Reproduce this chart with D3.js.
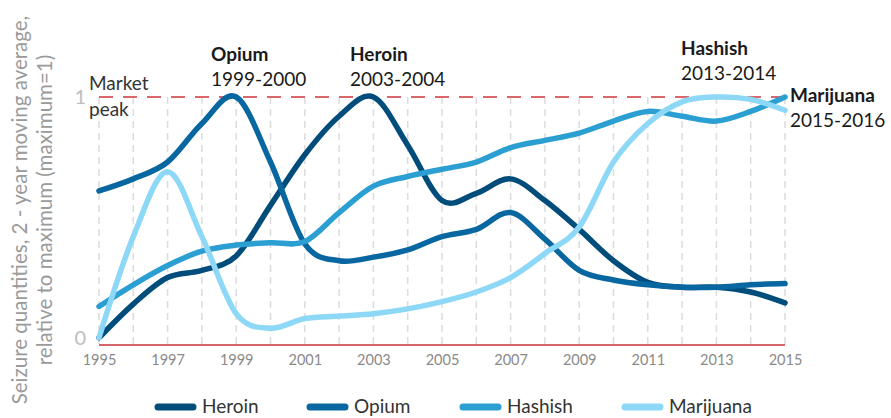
<!DOCTYPE html>
<html>
<head>
<meta charset="utf-8">
<script src="https://cdn.jsdelivr.net/npm/d3@7"></script>
<style>
  body { margin: 0; background: #fff; }
  svg { font-family: Lato, "Open Sans", sans-serif; }
</style>
</head>
<body>
<svg width="891" height="418"></svg>
<script>
var years = d3.range(1995, 2016);
var heroin    = [0, 0.14, 0.25, 0.28, 0.34, 0.55, 0.76, 0.92, 1.0, 0.80, 0.57, 0.60, 0.66, 0.57, 0.45, 0.32, 0.23, 0.21, 0.21, 0.19, 0.145];
var opium     = [0.61, 0.66, 0.73, 0.89, 1.0, 0.73, 0.39, 0.32, 0.335, 0.365, 0.42, 0.45, 0.52, 0.41, 0.28, 0.24, 0.22, 0.21, 0.21, 0.22, 0.225];
var hashish   = [0.13, 0.22, 0.30, 0.36, 0.385, 0.395, 0.40, 0.52, 0.63, 0.67, 0.70, 0.73, 0.79, 0.82, 0.85, 0.90, 0.94, 0.92, 0.90, 0.94, 1.0];
var marijuana = [0, 0.42, 0.69, 0.42, 0.10, 0.04, 0.08, 0.09, 0.10, 0.12, 0.15, 0.19, 0.25, 0.35, 0.46, 0.73, 0.89, 0.98, 1.0, 0.99, 0.945];
var tickYears = d3.range(1995, 2016, 2);

var series = [
  {name: "Heroin", values: heroin, color: "#004d7b"},
  {name: "Opium", values: opium, color: "#0867a0"},
  {name: "Hashish", values: hashish, color: "#2b9ed2"},
  {name: "Marijuana", values: marijuana, color: "#8ed8f7"}
];

var peaks = [
  {name: "Opium", years: "1999-2000", x: 211, y: 61},
  {name: "Heroin", years: "2003-2004", x: 350, y: 61},
  {name: "Hashish", years: "2013-2014", x: 681, y: 55},
  {name: "Marijuana", years: "2015-2016", x: 790, y: 102}
];

var svg = d3.select("svg");

var x = d3.scaleLinear().domain([1995, 2015]).range([99, 785]);
var y = d3.scaleLinear().domain([-0.03, 1]).range([345, 97]);

// vertical dashed grid, one per year
svg.append("g").selectAll("line")
  .data(years)
  .enter().append("line")
    .attr("x1", function(d) { return x(d); })
    .attr("x2", function(d) { return x(d); })
    .attr("y1", y(1))
    .attr("y2", y(-0.03))
    .attr("stroke", "#dcdcdc")
    .attr("stroke-width", 1.5)
    .attr("stroke-dasharray", "7,5");

// market peak line
svg.append("line")
  .attr("x1", x(1995)).attr("x2", x(2015))
  .attr("y1", y(1)).attr("y2", y(1))
  .attr("stroke", "#d9666a")
  .attr("stroke-width", 2)
  .attr("stroke-dasharray", "14,10");

// baseline
svg.append("line")
  .attr("x1", x(1995)).attr("x2", x(2015))
  .attr("y1", y(-0.03)).attr("y2", y(-0.03))
  .attr("stroke", "#c8333a")
  .attr("stroke-width", 1.5);

// x axis labels
var xAxis = d3.axisBottom(x).tickValues(tickYears).tickFormat(d3.format("d")).tickSize(0).tickPadding(10);
var gx = svg.append("g").attr("transform", "translate(0," + y(-0.03) + ")").call(xAxis);
gx.select(".domain").remove();
gx.selectAll("text").attr("fill", "#8a8a8a").style("font-size", "14.5px").style("font-family", "Lato, sans-serif");

// y axis labels
var yAxis = d3.axisLeft(y).tickValues([0, 1]).tickFormat(d3.format("d")).tickSize(0).tickPadding(13);
var gy = svg.append("g").attr("transform", "translate(" + x(1995) + ",0)").call(yAxis);
gy.select(".domain").remove();
gy.selectAll("text").attr("fill", "#bdbdbd").style("font-size", "20px").style("font-family", "Lato, sans-serif");

// y axis title
var yt = svg.append("text")
  .attr("transform", "translate(22,210) rotate(-90)")
  .attr("text-anchor", "middle")
  .attr("fill", "#9a9a9a")
  .style("font-size", "20.5px");
yt.append("tspan").attr("x", 0).attr("dy", 5).text("Seizure quantities, 2 - year moving average,");
yt.append("tspan").attr("x", 0).attr("dy", 25).text("relative to maximum (maximum=1)");

// lines
var line = d3.line()
  .x(function(d, i) { return x(years[i]); })
  .y(function(d) { return y(d); })
  .curve(d3.curveCatmullRom.alpha(0));

svg.append("g").selectAll("path")
  .data(series)
  .enter().append("path")
    .attr("d", function(s) { return line(s.values); })
    .attr("fill", "none")
    .attr("stroke", function(s) { return s.color; })
    .attr("stroke-width", 5.5)
    .attr("stroke-linecap", "round")
    .attr("stroke-linejoin", "round");

// annotations
svg.append("text").attr("x", 89).attr("y", 90).attr("fill", "#333").style("font-size", "19px").text("Market");
svg.append("text").attr("x", 89).attr("y", 116).attr("fill", "#333").style("font-size", "19px").text("peak");

var ann = svg.append("g").selectAll("g")
  .data(peaks)
  .enter().append("g");
ann.append("text")
  .attr("x", function(d) { return d.x; })
  .attr("y", function(d) { return d.y; })
  .attr("fill", "#1a1a1a")
  .style("font-size", "19px")
  .style("font-weight", "bold")
  .text(function(d) { return d.name; });
ann.append("text")
  .attr("x", function(d) { return d.x; })
  .attr("y", function(d) { return d.y + 25; })
  .attr("fill", "#1a1a1a")
  .style("font-size", "19px")
  .text(function(d) { return d.years; });

// legend
var legendX = [155, 307, 460, 622];
var lg = svg.append("g").selectAll("g")
  .data(series)
  .enter().append("g")
    .attr("transform", function(d, i) { return "translate(" + legendX[i] + ",407)"; });
lg.append("line")
  .attr("x1", 3).attr("x2", 38)
  .attr("stroke", function(d) { return d.color; })
  .attr("stroke-width", 7)
  .attr("stroke-linecap", "round");
lg.append("text")
  .attr("x", 47)
  .attr("y", 6)
  .attr("fill", "#333")
  .style("font-size", "19px")
  .text(function(d) { return d.name; });
</script>
</body>
</html>
